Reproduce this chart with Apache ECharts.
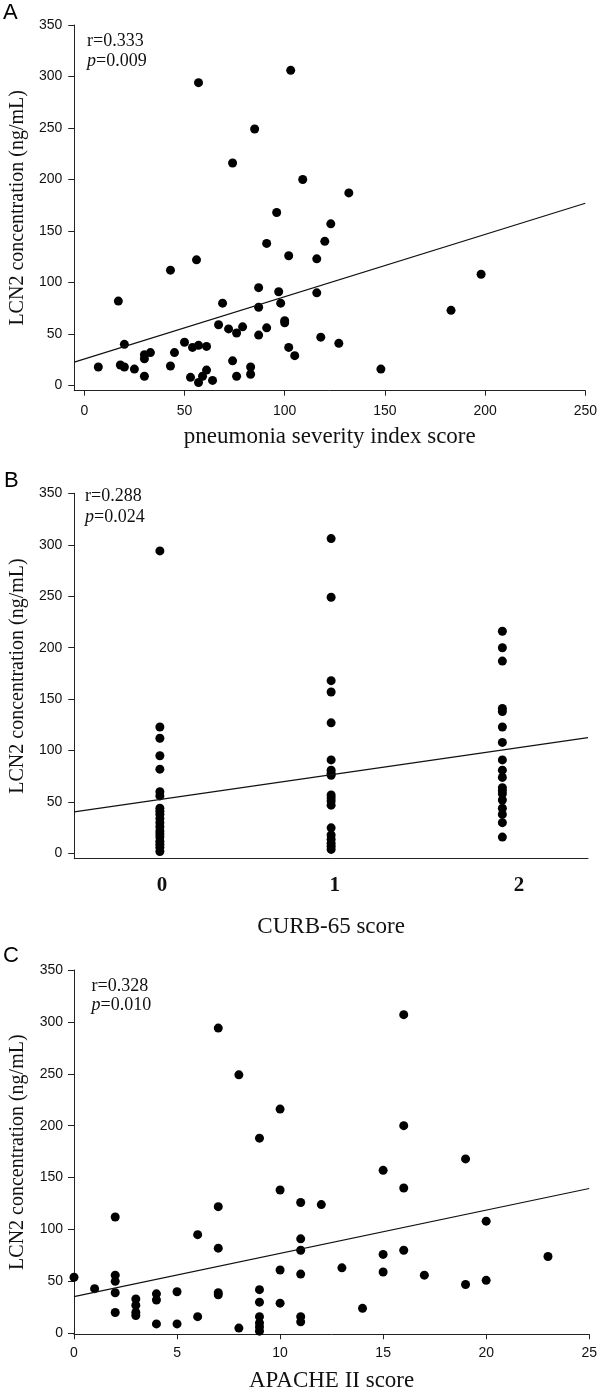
<!DOCTYPE html>
<html><head><meta charset="utf-8">
<script src="https://cdn.jsdelivr.net/npm/echarts@6/dist/echarts.min.js"></script>
<style>html,body{margin:0;padding:0;background:#fff}#c{width:600px;height:1395px}</style>
</head><body><div id="c"></div>
<script>
// ---- Panel A: pneumonia severity index score vs LCN2 ----
const psiScore = [57,103,85,74,109,96,132,123,91,120,102,116,56,43,198,87,97,116,17,69,98,87,183,100,100,67,72,79,91,76,87,118,50,127,20,54,57,61,102,33,45,30,105,30,74,7,18,20,25,43,83,61,148,83,30,53,76,59,57,64];
const psiLcn2  = [294,306,249,216,200,168,187,157,138,140,126,123,122,112,108,95,91,90,82,80,80,76,73,63,61,59,55,57,56,51,49,47,42,41,40,37,39,38,37,32,32,30,29,26,24,18,20,18,16,19,18,15,16,11,9,8,9,9,3,5];
const psiFitX = [-5, 250];
const psiFitY = [22.7, 177];
const psiStats = ['0.333', '0.009'];

// ---- Panel B: CURB-65 score vs LCN2 ----
const curbCategories = [0, 1, 2];
const curb0Lcn2 = [294,123,112,95,82,60,56,44,41,38,34,30,26,22,19,16,12,9,6,2];
const curb1Lcn2 = [306,249,168,157,127,91,81,78,76,57,54,51,47,25,18,14,10,7,4];
const curb2Lcn2 = [216,200,187,141,138,123,108,91,81,74,64,61,58,52,44,38,30,16];
const curbFitX = [-0.5, 2.5];
const curbFitY = [40.5, 112.6];
const curbStats = ['0.288', '0.024'];

// ---- Panel C: APACHE II score vs LCN2 ----
const apacheScore = [0,1,2,2,2,2,2,3,3,3,3,4,4,4,5,5,6,6,7,7,7,7,7,8,8,9,9,9,9,9,9,9,10,10,10,10,11,11,11,11,11,11,12,13,14,15,15,15,16,16,16,16,17,19,19,20,20,23];
const apacheLcn2  = [54,43,112,56,50,39,20,33,27,20,17,38,32,9,40,9,95,16,294,122,82,39,37,249,5,188,42,30,16,10,6,2,216,138,61,29,126,91,80,57,16,11,124,63,24,157,76,59,307,200,140,80,56,168,47,108,51,74];
const apacheFitX = [0, 25];
const apacheFitY = [35.3, 139.5];
const apacheStats = ['0.328', '0.010'];

// tick labels
const yTicks = [0,50,100,150,200,250,300,350];
const psiTicks = [0,50,100,150,200,250];
const apacheTicks = [0,5,10,15,20,25];

const yTitle = 'LCN2 concentration (ng/mL)';
const xTitles = ['pneumonia severity index score', 'CURB-65 score', 'APACHE II score'];
const panelLetters = ['A', 'B', 'C'];

const SANS = 'Liberation Sans, Arial, sans-serif';
const SERIF = 'Liberation Serif, Times New Roman, serif';
const AX = '#222';

const pts = (xs, ys) => xs.map((x, i) => [x, ys[i]]);
const curbData = [].concat(
  curb0Lcn2.map(v => [curbCategories[0], v]),
  curb1Lcn2.map(v => [curbCategories[1], v]),
  curb2Lcn2.map(v => [curbCategories[2], v])
);

const grids = [
  {left: 67, top: 25, width: 521, height: 365.7},
  {left: 67, top: 493.3, width: 521, height: 365.4},
  {left: 70.7, top: 970, width: 521.6, height: 364.3}
];

function yAxis(gi, min, margin) {
  return {
    type: 'value', gridIndex: gi, min: min, max: 350,
    name: yTitle, nameLocation: 'middle', nameGap: 46,
    nameTextStyle: {fontFamily: SERIF, fontSize: 20, color: '#111'},
    axisLine: {show: true, onZero: false, lineStyle: {color: AX, width: 1}},
    axisTick: {show: true, length: 6, customValues: yTicks, lineStyle: {color: AX}},
    axisLabel: {customValues: yTicks, margin: margin, fontFamily: SANS, fontSize: 14, color: '#111'},
    splitLine: {show: false}
  };
}

const dotStyle = {color: '#000', opacity: 1};

const option = {
  animation: false,
  backgroundColor: '#fff',
  grid: grids.map(g => Object.assign({containLabel: false}, g)),
  xAxis: [
    {
      type: 'value', gridIndex: 0, min: -5, max: 250,
      name: xTitles[0], nameLocation: 'middle', nameGap: 35,
      nameTextStyle: {fontFamily: SERIF, fontSize: 23, color: '#111'},
      axisLine: {onZero: false, lineStyle: {color: AX, width: 1}},
      axisTick: {show: true, length: 5, customValues: psiTicks, lineStyle: {color: AX}},
      axisLabel: {customValues: psiTicks, margin: 13, fontFamily: SANS, fontSize: 14, color: '#111'},
      splitLine: {show: false}
    },
    {
      type: 'value', gridIndex: 1, min: -0.5, max: 2.5,
      name: xTitles[1], nameLocation: 'middle', nameGap: 57,
      nameTextStyle: {fontFamily: SERIF, fontSize: 23, color: '#111'},
      axisLine: {onZero: false, lineStyle: {color: AX, width: 1}},
      axisTick: {show: false},
      axisLabel: {
        customValues: curbCategories, margin: 16, fontFamily: SERIF, fontSize: 21, fontWeight: 'bold', color: '#111',
        formatter: v => '{c' + v + '|' + v + '}',
        rich: {
          c0: {fontFamily: SERIF, fontSize: 21, fontWeight: 'bold', color: '#111', padding: [0, 0, 0, 4]},
          c1: {fontFamily: SERIF, fontSize: 21, fontWeight: 'bold', color: '#111', padding: [0, 0, 0, 7]},
          c2: {fontFamily: SERIF, fontSize: 21, fontWeight: 'bold', color: '#111', padding: [0, 0, 0, 33]}
        }
      },
      splitLine: {show: false}
    },
    {
      type: 'value', gridIndex: 2, min: 0, max: 25,
      name: xTitles[2], nameLocation: 'middle', nameGap: 35,
      nameTextStyle: {fontFamily: SERIF, fontSize: 23, color: '#111'},
      axisLine: {onZero: false, lineStyle: {color: AX, width: 1}},
      axisTick: {show: true, length: 5, customValues: apacheTicks, lineStyle: {color: AX}},
      axisLabel: {customValues: apacheTicks, margin: 12, fontFamily: SANS, fontSize: 14, color: '#111'},
      splitLine: {show: false}
    }
  ],
  yAxis: [yAxis(0, -5, 12), yAxis(1, -5, 12), yAxis(2, -1, 11)],
  series: [
    {type: 'scatter', xAxisIndex: 0, yAxisIndex: 0, data: pts(psiScore, psiLcn2), symbolSize: 9, itemStyle: dotStyle, silent: true},
    {type: 'line', xAxisIndex: 0, yAxisIndex: 0, data: pts(psiFitX, psiFitY), showSymbol: false, symbol: 'none', lineStyle: {color: '#111', width: 1.2}, silent: true},
    {type: 'scatter', xAxisIndex: 1, yAxisIndex: 1, data: curbData, symbolSize: 9, itemStyle: dotStyle, silent: true},
    {type: 'line', xAxisIndex: 1, yAxisIndex: 1, data: pts(curbFitX, curbFitY), showSymbol: false, symbol: 'none', lineStyle: {color: '#111', width: 1.2}, silent: true},
    {type: 'scatter', xAxisIndex: 2, yAxisIndex: 2, data: pts(apacheScore, apacheLcn2), symbolSize: 9, itemStyle: dotStyle, silent: true},
    {type: 'line', xAxisIndex: 2, yAxisIndex: 2, data: pts(apacheFitX, apacheFitY), showSymbol: false, symbol: 'none', lineStyle: {color: '#111', width: 1.2}, silent: true}
  ],
  graphic: []
};

const statPos = [
  {x: 87, y1: 42, y2: 62},
  {x: 85, y1: 497, y2: 518},
  {x: 91.5, y1: 987, y2: 1006.5}
];
const statVals = [psiStats, curbStats, apacheStats];
const letterPos = [{x: 3, y: 2}, {x: 4, y: 470}, {x: 3, y: 945}];
statPos.forEach((p, i) => {
  option.graphic.push({
    type: 'text', left: p.x, top: p.y1 - 10, silent: true,
    style: {text: 'r=' + statVals[i][0], fontFamily: SERIF, fontSize: 18, fill: '#111'}
  });
  option.graphic.push({
    type: 'text', left: p.x, top: p.y2 - 10, silent: true,
    style: {
      text: '{i|p}=' + statVals[i][1], fontFamily: SERIF, fontSize: 18, fill: '#111',
      rich: {i: {fontFamily: SERIF, fontSize: 18, fontStyle: 'italic', fill: '#111'}}
    }
  });
  option.graphic.push({
    type: 'text', left: letterPos[i].x, top: letterPos[i].y, silent: true,
    style: {text: panelLetters[i], fontFamily: SANS, fontSize: 22, fill: '#000'}
  });
});

const chart = echarts.init(document.getElementById('c'), null, {renderer: 'canvas'});
chart.setOption(option);
</script>
</body></html>
